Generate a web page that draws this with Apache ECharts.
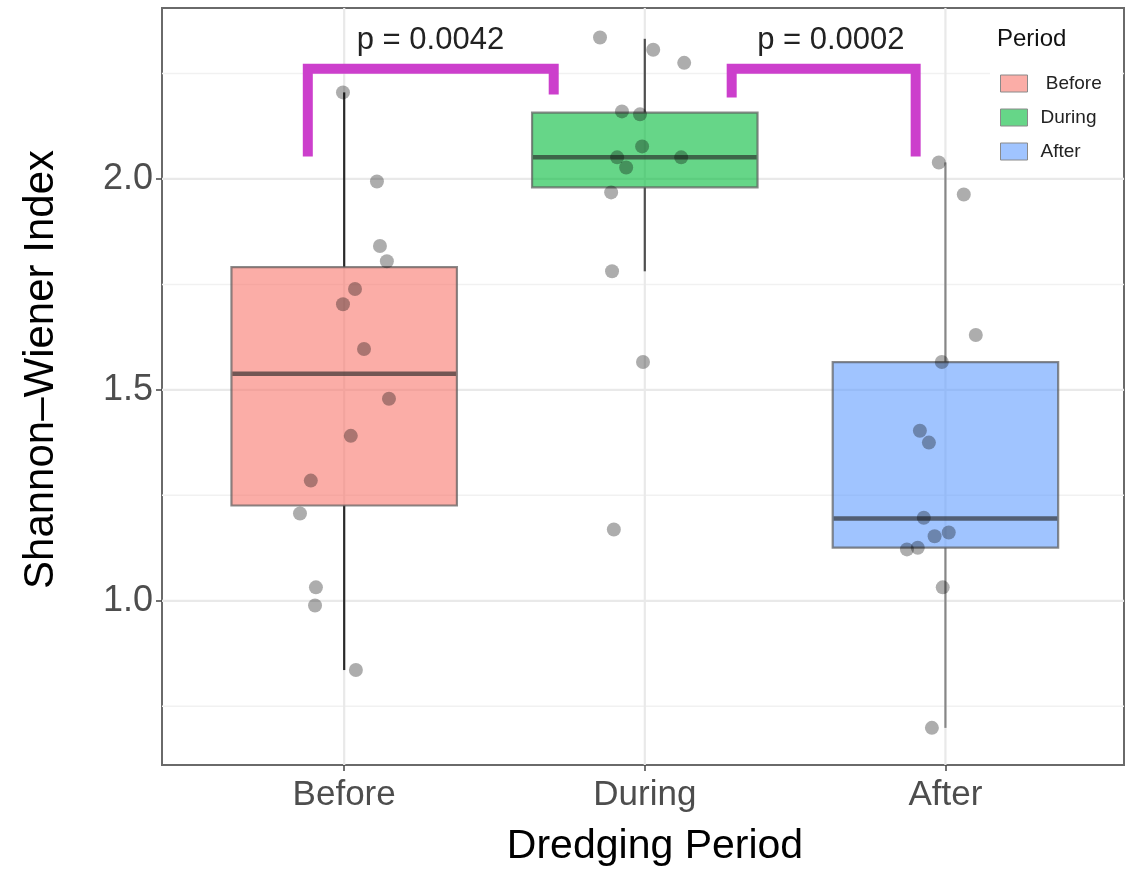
<!DOCTYPE html>
<html>
<head>
<meta charset="utf-8">
<script src="https://cdn.jsdelivr.net/npm/echarts@6/dist/echarts.min.js"></script>
<style>
  html, body { margin: 0; padding: 0; background: #fff; }
  #chart { width: 1132px; height: 872px; }
</style>
</head>
<body>
<div id="chart"></div>
<script>
// ---------- data ----------
const categories = ['Before', 'During', 'After'];

// box statistics (one entry per period)
const whiskerLow  = [0.836, 1.781, 0.699];
const quartile1   = [1.226, 1.980, 1.126];
const medians     = [1.538, 2.051, 1.195];
const quartile3   = [1.791, 2.157, 1.566];
const whiskerHigh = [2.205, 2.332, 2.039];

// jittered observations (x is the jittered category position)
const beforeX = [0.996, 1.109, 1.119, 1.142, 1.036, 0.996, 1.066, 1.149, 1.022, 0.889, 0.853, 0.906, 0.903, 1.039];
const beforeY = [2.205, 1.994, 1.841, 1.805, 1.739, 1.703, 1.597, 1.479, 1.391, 1.285, 1.207, 1.032, 0.989, 0.836];
const duringX = [1.851, 2.028, 2.131, 1.924, 1.984, 1.991, 1.908, 1.938, 2.121, 1.888, 1.891, 1.994, 1.897];
const duringY = [2.335, 2.306, 2.275, 2.160, 2.153, 2.077, 2.051, 2.027, 2.051, 1.968, 1.781, 1.566, 1.169];
const afterX  = [2.978, 3.061, 3.101, 2.988, 2.915, 2.945, 2.928, 3.011, 2.964, 2.908, 2.872, 2.991, 2.955];
const afterY  = [2.039, 1.963, 1.630, 1.566, 1.403, 1.375, 1.197, 1.162, 1.153, 1.126, 1.122, 1.032, 0.699];

// significance brackets
const bracket1X = [0.879, 0.879, 1.697, 1.697];
const bracket1Y = [2.053, 2.261, 2.261, 2.200];
const bracket2X = [2.289, 2.289, 2.901, 2.901];
const bracket2Y = [2.193, 2.261, 2.261, 2.053];
const pLabels = ['p = 0.0042', 'p = 0.0002'];
const pLabelX = [1.287, 2.619];
const pLabelY = [2.327, 2.327];

// axis ticks / gridlines
const yTickValues = [1.0, 1.5, 2.0];
const yMinorValues = [0.75, 1.25, 1.75, 2.25];
const xTickValues = [1, 2, 3];

// ---------- styles ----------
const FONT = 'Liberation Sans, Arial, Helvetica, sans-serif';
const fills = ['rgba(248,118,109,0.6)', 'rgba(0,186,56,0.6)', 'rgba(97,156,255,0.6)'];
const whiskerColors = ['rgba(20,20,20,0.9)', 'rgba(40,40,40,0.8)', 'rgba(70,70,70,0.6)'];
const BOX_W = 0.75;
const X_MIN = 0.394, X_MAX = 3.594, Y_MIN = 0.611, Y_MAX = 2.405;

const chart = echarts.init(document.getElementById('chart'), null, { renderer: 'canvas' });

function gridSeries(values, horizontal, color, width) {
  return {
    type: 'custom', silent: true, z: 0,
    data: values.map(v => [v]),
    encode: horizontal ? { y: 0 } : { x: 0 },
    renderItem: (params, api) => {
      const v = api.value(0);
      const a = horizontal ? api.coord([X_MIN, v]) : api.coord([v, Y_MIN]);
      const b = horizontal ? api.coord([X_MAX, v]) : api.coord([v, Y_MAX]);
      return { type: 'line', shape: { x1: a[0], y1: a[1], x2: b[0], y2: b[1] },
               style: { stroke: color, lineWidth: width } };
    }
  };
}

const boxSeries = categories.map((name, i) => ({
  name: name,
  type: 'custom',
  z: 2,
  itemStyle: { color: fills[i], borderColor: '#8a8a8a', borderWidth: 1 },
  data: [[i + 1, whiskerLow[i], quartile1[i], medians[i], quartile3[i], whiskerHigh[i]]],
  encode: { x: 0, y: [1, 2, 3, 4, 5] },
  renderItem: (params, api) => {
    const x = api.value(0);
    const lo = api.value(1), q1 = api.value(2), md = api.value(3), q3 = api.value(4), hi = api.value(5);
    const tl = api.coord([x - BOX_W / 2, q3]);
    const br = api.coord([x + BOX_W / 2, q1]);
    const mL = api.coord([x - BOX_W / 2, md]);
    const mR = api.coord([x + BOX_W / 2, md]);
    const wHi = api.coord([x, hi]), wQ3 = api.coord([x, q3]);
    const wLo = api.coord([x, lo]), wQ1 = api.coord([x, q1]);
    return {
      type: 'group',
      children: [
        { type: 'line', shape: { x1: wHi[0], y1: wHi[1], x2: wQ3[0], y2: wQ3[1] },
          style: { stroke: whiskerColors[i], lineWidth: 2.2 } },
        { type: 'line', shape: { x1: wLo[0], y1: wLo[1], x2: wQ1[0], y2: wQ1[1] },
          style: { stroke: whiskerColors[i], lineWidth: 2.2 } },
        { type: 'rect', shape: { x: tl[0], y: tl[1], width: br[0] - tl[0], height: br[1] - tl[1] },
          style: { fill: fills[i], stroke: 'rgba(90,90,90,0.7)', lineWidth: 2.2 } },
        { type: 'line', shape: { x1: mL[0] + 1, y1: mL[1], x2: mR[0] - 1, y2: mR[1] },
          style: { stroke: 'rgba(40,40,40,0.65)', lineWidth: 4.5 } }
      ]
    };
  }
}));

const pointData = [];
[[beforeX, beforeY], [duringX, duringY], [afterX, afterY]].forEach(([xs, ys]) => {
  xs.forEach((x, k) => pointData.push([x, ys[k]]));
});

function bracketSeries(xs, ys) {
  return {
    type: 'line', silent: true, z: 5, symbol: 'none', animation: false,
    data: xs.map((x, k) => [x, ys[k]]),
    lineStyle: { color: '#CC3FCC', width: 10, join: 'miter', cap: 'butt' }
  };
}

const option = {
  animation: false,
  backgroundColor: '#ffffff',
  grid: { left: 162, top: 8, right: 8, bottom: 105, show: true,
          borderColor: '#6a6a6a', borderWidth: 2, backgroundColor: 'transparent' },
  xAxis: {
    type: 'value', min: X_MIN, max: X_MAX,
    splitLine: { show: false },
    axisLine: { show: false },
    axisTick: { show: true, customValues: xTickValues, length: 6, lineStyle: { color: '#444', width: 1.5 } },
    axisLabel: { customValues: xTickValues, formatter: v => categories[Math.round(v) - 1],
                 fontSize: 35, color: '#4d4d4d', fontFamily: FONT, margin: 13 },
    name: 'Dredging Period', nameLocation: 'middle', nameGap: 61,
    nameTextStyle: { fontSize: 41, color: '#000', fontFamily: FONT, padding: [0, 0, 0, 24] }
  },
  yAxis: {
    type: 'value', min: Y_MIN, max: Y_MAX,
    splitLine: { show: false },
    axisLine: { show: false },
    axisTick: { show: true, customValues: yTickValues, length: 6, lineStyle: { color: '#444', width: 1.5 } },
    axisLabel: { customValues: yTickValues, formatter: v => v.toFixed(1),
                 fontSize: 36, color: '#4d4d4d', fontFamily: FONT, margin: 9, padding: [10, 0, 0, 0] },
    name: 'Shannon\u2013Wiener Index', nameLocation: 'middle', nameGap: 100,
    nameTextStyle: { fontSize: 42, color: '#000', fontFamily: FONT, padding: [0, 0, 0, 34] }
  },
  legend: {
    data: categories,
    orient: 'vertical', left: 990, top: 66,
    padding: [8, 20, 8, 10],
    backgroundColor: '#ffffff',
    icon: 'rect', itemWidth: 27, itemHeight: 17, itemGap: 15,
    itemStyle: { borderColor: '#8a8a8a', borderWidth: 1 },
    formatter: n => n === 'Before' ? ' ' + n : n,
    textStyle: { fontSize: 19, color: '#222', fontFamily: FONT, padding: [0, 0, 0, 8] }
  },
  graphic: [
    { type: 'text', left: 997, top: 27, z: 10,
      style: { text: 'Period', fontSize: 24, fill: '#111', fontFamily: FONT } }
  ],
  series: [
    gridSeries(yMinorValues, true, '#f1f1f1', 1.5),
    gridSeries(yTickValues, true, '#e9e9e9', 2.2),
    gridSeries(xTickValues, false, '#e9e9e9', 2.2),
    ...boxSeries,
    {
      type: 'scatter', z: 3, silent: true,
      data: pointData, symbolSize: 14,
      itemStyle: { color: 'rgba(0,0,0,0.4)' }
    },
    bracketSeries(bracket1X, bracket1Y),
    bracketSeries(bracket2X, bracket2Y),
    {
      type: 'custom', z: 6, silent: true,
      data: pLabels.map((t, k) => [pLabelX[k], pLabelY[k]]),
      encode: { x: 0, y: 1 },
      renderItem: (params, api) => {
        const p = api.coord([api.value(0), api.value(1)]);
        return { type: 'text', x: p[0], y: p[1],
                 style: { text: pLabels[params.dataIndex], fontSize: 31, fill: '#222',
                          fontFamily: FONT, align: 'center', verticalAlign: 'middle' } };
      }
    }
  ]
};
chart.setOption(option);
</script>
</body>
</html>
